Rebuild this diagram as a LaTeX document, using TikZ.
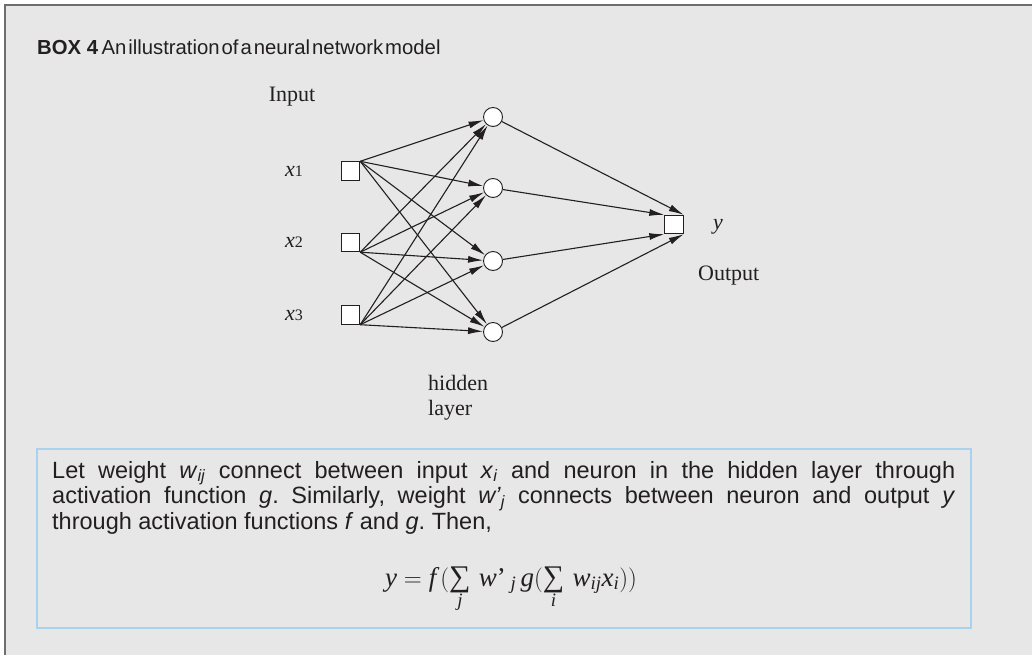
\documentclass[tikz,border=0pt]{standalone}
\usepackage{fontspec}
\setmainfont{Liberation Serif}
\setsansfont{Liberation Sans}
\newfontfamily\titlefont[WordSpace=0.35]{Liberation Sans}
\usetikzlibrary{arrows.meta}
\definecolor{boxgray}{HTML}{E6E7E6}
\definecolor{framegray}{HTML}{6D6E70}
\definecolor{noteblue}{HTML}{A9D2EF}
\definecolor{ink}{HTML}{231F20}
\newcommand{\bigsum}{\mathop{\hbox{\fontsize{30}{30}\selectfont\char"2211}}\limits}
\tikzset{
  unit/.style={draw=ink, fill=white, line width=0.9pt, minimum size=18.5pt, inner sep=0pt},
  neuron/.style={draw=ink, fill=white, circle, line width=0.9pt, minimum size=19pt, inner sep=0pt},
  link/.style={draw=ink, line width=1.1pt, -{Latex[length=15pt,width=7pt]}},
  lbl/.style={text=ink, inner sep=0pt, font=\fontsize{22}{25}\selectfont},
  note/.style={draw=noteblue, line width=1.8pt, inner sep=0pt},
}

\begin{document}
\frenchspacing
\begin{tikzpicture}[x=1pt,y=-1pt]
\useasboundingbox (0,0) rectangle (1032,655);
\clip (0,0) rectangle (1032,655);
\fill[white] (0,0) rectangle (1032,655);
\draw[framegray, line width=2pt, fill=boxgray] (5,5) rectangle (1060,690);
\node[anchor=base west, inner sep=0pt, text=ink, font=\sffamily\fontsize{20.3}{24}\selectfont] (title) at (37,55)
  {\textbf{BOX 4}\,{\titlefont An illustration of a neural network model}};

\node[lbl, anchor=base] (input) at (292,102) {Input};
\foreach \i/\yy in {1/171,2/242.5,3/315} {
  \node[unit] (in\i) at (350.5,\yy) {};
  \node[lbl, anchor=base east] (x\i) at (303,\yy+5) {\textit{x}{\fontsize{16}{16}\selectfont\i}};
}
\foreach \j/\yy in {1/117,2/188,3/261,4/332}
  \node[neuron] (h\j) at (493,\yy) {};
\node[unit] (out) at (674,224.5) {};
\node[lbl, anchor=base] (y) at (718,229) {\textit{y}};
\node[lbl, anchor=base west] (output) at (698,280) {Output};
\node[lbl, anchor=base west, align=left] (hidden) at (428,415) {hidden\\layer};

\foreach \j in {1,...,4} {
  \draw[link] (in1.north east) -- (h\j);
  \draw[link] (in2.south east) -- (h\j);
  \draw[link] (in3.south east) -- (h\j);
}
\draw[link] (h1) -- (out.north east);
\draw[link] (h2) -- (out.north west);
\draw[link] (h3) -- (out.south west);
\draw[link] (h4) -- (out.south east);

\node[note, anchor=north west, minimum width=934pt, minimum height=179pt] (note) at (36,448) {};
\node[anchor=north west, inner sep=0pt, text=ink, text width=903pt, align=justify,
  font=\sffamily\fontsize{23.5}{25.5}\selectfont] (text) at (52,461)
  {Let weight \textit{w}\textsubscript{\textit{ij}} connect between input \textit{x}\textsubscript{\textit{i}} and neuron in the hidden layer through\linebreak
   activation function \textit{g}. Similarly, weight \textit{w'}\textsubscript{\textit{j}} connects between neuron and output \textit{y}\linebreak
   through activation functions \textit{f} and \textit{g}. Then,};
\node[anchor=base, inner sep=0pt, text=ink, font=\fontsize{27}{30}\selectfont] (formula) at (511,586)
  {$\mathit{y} = \mathit{f}\,(\bigsum_{\mathit{j}}\, \mathit{w}\mbox{'}_{\;\mathit{j}}\, \mathit{g}(\bigsum_{\mathit{i}}\, \mathit{w}_{\mathit{ij}}\mathit{x}_{\mathit{i}}))$};
\end{tikzpicture}
\end{document}
